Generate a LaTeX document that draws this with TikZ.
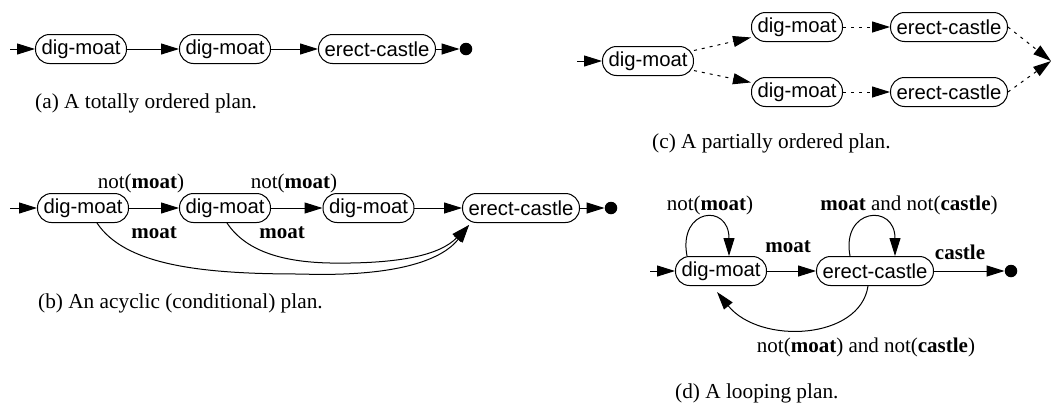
\documentclass[tikz,border=0pt]{standalone}
\usepackage{fontspec}
\setmainfont{Liberation Serif}
\setsansfont{Liberation Sans}
\usetikzlibrary{arrows.meta}
\begin{document}
\begin{tikzpicture}[x=1pt,y=-1pt,
  act/.style={draw, line width=1pt, rounded corners=14pt, minimum height=29pt,
    inner xsep=6pt, inner ysep=0pt, font=\sffamily\fontsize{20.3}{23}\selectfont},
  arr/.style={line width=1pt, -{Triangle[length=18pt,width=11pt]}},
  dotted arr/.style={arr, dash pattern=on 3pt off 5pt},
  goal/.style={circle, fill=black, inner sep=0pt, minimum size=12.5pt},
  lbl/.style={inner sep=0pt, font=\fontsize{21}{24}\selectfont},
  capt/.style={inner sep=0pt, anchor=base west, font=\fontsize{21.3}{24}\selectfont}]
\useasboundingbox (0,0) rectangle (1052,405);

% (a) totally ordered plan
\coordinate (as) at (10,49);
\node[act] (a1) at (81,49) {dig-moat};
\node[act] (a2) at (225,49) {dig-moat};
\node[act] (a3) at (377,49) {erect-castle};
\node[goal] (aend) at (466,49) {};
\draw[arr] (as) -- (a1);
\draw[arr] (a1) -- (a2);
\draw[arr] (a2) -- (a3);
\draw[arr] (a3) -- (aend);
\node[capt] (acap) at (35,108) {(a) A totally ordered plan.};

% (c) partially ordered plan
\coordinate (cs) at (577,61);
\node[act] (c1) at (648,61) {dig-moat};
\node[act] (c2) at (797,27) {dig-moat};
\node[act] (c3) at (949,27) {erect-castle};
\node[act] (c4) at (797,92) {dig-moat};
\node[act] (c5) at (949,92) {erect-castle};
\coordinate (cend) at (1051,61);
\draw[arr] (cs) -- (c1);
\draw[dotted arr] (c1) -- (c2);
\draw[dotted arr] (c1) -- (c4);
\draw[dotted arr] (c2) -- (c3);
\draw[dotted arr] (c4) -- (c5);
\draw[dotted arr] (c3.east) -- (cend);
\draw[dotted arr] (c5.east) -- (cend);
\node[capt] (ccap) at (652,148) {(c) A partially ordered plan.};

% (b) acyclic conditional plan
\coordinate (bs) at (10,208);
\node[act] (b1) at (83,208) {dig-moat};
\node[act] (b2) at (225,208) {dig-moat};
\node[act] (b3) at (368.5,208) {dig-moat};
\node[act] (b4) at (521,208) {erect-castle};
\node[goal] (bend) at (611,208) {};
\draw[arr] (bs) -- (b1);
\draw[arr] (b1) -- (b2);
\draw[arr] (b2) -- (b3);
\draw[arr] (b3) -- (b4);
\draw[arr] (b4) -- (bend);
\draw[arr] ([xshift=14pt]b1.south) .. controls (125,265) and (200,274) .. (300,274)
   .. controls (420,278) and (450,250) .. ([xshift=7pt,yshift=-2pt]b4.south west);
\draw[arr] ([xshift=2pt]b2.south) .. controls (245,250) and (280,262) .. (330,263)
   .. controls (400,264) and (440,255) .. ([xshift=7pt,yshift=-2pt]b4.south west);
\node[lbl] (bl1) at (141,183) {not(\textbf{moat})};
\node[lbl] (bl2) at (294,183) {not(\textbf{moat})};
\node[lbl] (bl3) at (154,233) {\textbf{moat}};
\node[lbl] (bl4) at (282,233) {\textbf{moat}};
\node[capt] (bcap) at (38,308) {(b) An acyclic (conditional) plan.};

% (d) looping plan
\coordinate (ds) at (650,271);
\node[act] (d1) at (721,271) {dig-moat};
\node[act] (d2) at (875,271) {erect-castle};
\node[goal] (dend) at (1011,271) {};
\draw[arr] (ds) -- (d1);
\draw[arr] (d1) -- (d2);
\draw[arr] (d2) -- (dend);
\draw[arr] ([xshift=-34pt]d1.north) .. controls (678,208) and (729,203) .. ([xshift=8pt]d1.north);
\draw[arr] ([xshift=-25pt]d2.north) .. controls (841,208) and (895,203) .. ([xshift=20pt]d2.north);
\draw[arr] ([xshift=-7pt]d2.south) .. controls (860,340) and (760,345) .. ([xshift=-4pt,yshift=-6pt]d1.south);
\node[lbl] (dl1) at (710,205) {not(\textbf{moat})};
\node[lbl] (dl2) at (909,205) {\textbf{moat} and not(\textbf{castle})};
\node[lbl] (dl3) at (788,247) {\textbf{moat}};
\node[lbl] (dl4) at (960,252) {\textbf{castle}};
\node[lbl] (dl5) at (866,347) {not(\textbf{moat}) and not(\textbf{castle})};
\node[capt] (dcap) at (675,398) {(d) A looping plan.};
\end{tikzpicture}
\end{document}
